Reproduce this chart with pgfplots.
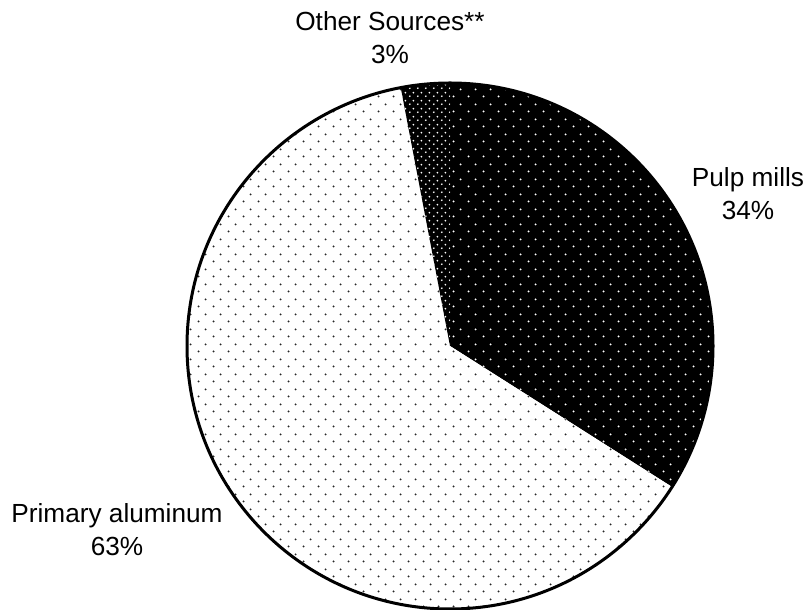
\documentclass[border=0pt]{standalone}
\usepackage{fontspec}
\setmainfont{Liberation Sans}
\usepackage{pgfplots}
\usepackage{pgfplotstable}
\pgfplotsset{compat=1.18}
\usetikzlibrary{patterns.meta}

\tikzdeclarepattern{
  name=sparsedots,
  type=uncolored,
  bounding box={(0pt,0pt) and (15pt,15pt)},
  tile size={(15pt,15pt)},
  code={
    \fill (3.75pt,3.75pt) circle (1.1pt);
    \fill (11.25pt,11.25pt) circle (1.1pt);
  }
}
\tikzdeclarepattern{
  name=densedots,
  type=uncolored,
  bounding box={(0pt,0pt) and (8pt,8pt)},
  tile size={(8pt,8pt)},
  code={
    \fill (2pt,2pt) circle (1.05pt);
    \fill (6pt,6pt) circle (1.05pt);
  }
}

\pgfplotstableread{
label value
Pulp 34
Aluminum 63
Other 3
}\piedata
\pgfplotstablegetelem{0}{value}\of\piedata \let\vPulp\pgfplotsretval
\pgfplotstablegetelem{1}{value}\of\piedata \let\vAlu\pgfplotsretval
\pgfplotstablegetelem{2}{value}\of\piedata \let\vOther\pgfplotsretval
\pgfmathsetmacro\aA{90}
\pgfmathsetmacro\aB{\aA-3.6*\vPulp}
\pgfmathsetmacro\aC{\aB-3.6*\vAlu}
\pgfmathsetmacro\aD{\aC-3.6*\vOther}
\def\cx{450}
\def\cy{264}
\def\R{263pt}

\begin{document}
\begin{tikzpicture}
\begin{axis}[
  width=809pt, height=610pt, scale only axis,
  xmin=0, xmax=809, ymin=0, ymax=610,
  hide axis, clip=true,
]
% Pulp mills
\fill[black] (axis cs:\cx,\cy) -- +(\aA:\R) arc[start angle=\aA, end angle=\aB, radius=\R] -- cycle;
\fill[pattern=sparsedots, pattern color=white] (axis cs:\cx,\cy) -- +(\aA:\R) arc[start angle=\aA, end angle=\aB, radius=\R] -- cycle;
% Primary aluminum
\fill[white] (axis cs:\cx,\cy) -- +(\aB:\R) arc[start angle=\aB, end angle=\aC, radius=\R] -- cycle;
\fill[pattern=sparsedots, pattern color=black!85] (axis cs:\cx,\cy) -- +(\aB:\R) arc[start angle=\aB, end angle=\aC, radius=\R] -- cycle;
% Other sources
\fill[black] (axis cs:\cx,\cy) -- +(\aC:\R) arc[start angle=\aC, end angle=\aD, radius=\R] -- cycle;
\fill[pattern=densedots, pattern color=white] (axis cs:\cx,\cy) -- +(\aC:\R) arc[start angle=\aC, end angle=\aD, radius=\R] -- cycle;
% outline
\draw[black, line width=3pt] (axis cs:\cx,\cy) circle[radius=\R];
\end{axis}
\begin{scope}[every node/.style={font=\fontsize{26.2}{33}\selectfont, align=center, inner sep=0pt}]
\node at (390pt,572pt) {Other Sources**\\3\%};
\node at (748pt,416pt) {Pulp mills\\34\%};
\node at (117pt,80pt) {Primary aluminum\\63\%};
\end{scope}
\pgfresetboundingbox
\path (0pt,0pt) rectangle (809pt,610pt);
\end{tikzpicture}
\end{document}
